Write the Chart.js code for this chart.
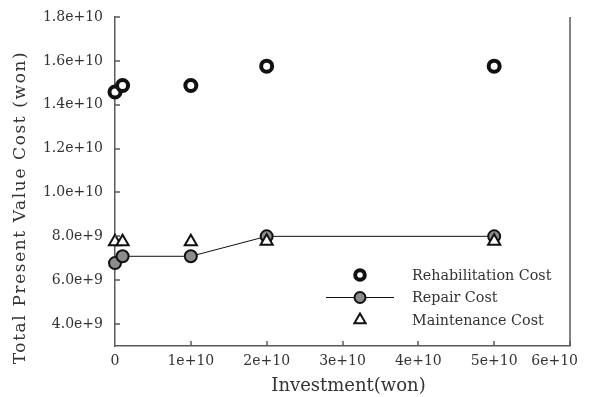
<!DOCTYPE html>
<html><head><meta charset="utf-8">
<script src="https://cdn.jsdelivr.net/npm/chart.js@4/dist/chart.umd.min.js"></script>
<style>html,body{margin:0;padding:0;background:#fff;}#wrap{width:590px;height:397px;position:relative}</style>
</head><body><div id="wrap"><canvas id="c" width="590" height="397"></canvas></div>
<script>
// ---- data ----
const investment = [0, 1e9, 1e10, 2e10, 5e10];
const rehabilitationCost = [1.458e10, 1.488e10, 1.488e10, 1.576e10, 1.576e10];
const repairCost = [6.78e9, 7.09e9, 7.09e9, 8.0e9, 8.0e9];
const maintenanceCost = [7.75e9, 7.75e9, 7.75e9, 7.78e9, 7.78e9];
const seriesNames = ['Rehabilitation Cost', 'Repair Cost', 'Maintenance Cost'];
const xTicks = [0, 1e10, 2e10, 3e10, 4e10, 5e10, 6e10];
const yTicks = [4e9, 6e9, 8e9, 1.0e10, 1.2e10, 1.4e10, 1.6e10, 1.8e10];
const xTitle = 'Investment(won)';
const yTitle = 'Total Present Value Cost (won)';

const FONT = '"DejaVu Serif", serif';
const TXT = '#333';
const AX = '#5a5a5a';
const fmtX = v => v === 0 ? '0' : v.toExponential(0);
const fmtY = v => v.toExponential(1);

const pts = (vals) => investment.map((x, i) => ({x: x, y: vals[i]}));

const datasets = [
  {label: seriesNames[0], data: pts(rehabilitationCost), showLine: false, order: 2, clip: false,
   pointStyle: 'circle', pointRadius: 5.5, pointBorderWidth: 4,
   pointBackgroundColor: '#fff', pointBorderColor: '#111'},
  {label: seriesNames[1], data: pts(repairCost), showLine: true, order: 1, clip: false,
   borderColor: '#111', borderWidth: 1, pointStyle: 'circle', pointRadius: 6, pointBorderWidth: 2,
   pointBackgroundColor: '#8c8c8c', pointBorderColor: '#111'},
  {label: seriesNames[2], data: pts(maintenanceCost), showLine: false, order: 0, clip: false,
   pointStyle: 'triangle', pointRadius: 7, pointBorderWidth: 2,
   pointBackgroundColor: '#fff', pointBorderColor: '#111'}
];

function patchTitle(s, dx, dy, spacing) {
  if (s._patched) return;
  const orig = s.drawTitle;
  s.drawTitle = function () {
    const c = this.ctx; c.save(); c.translate(dx, dy);
    if (spacing) c.letterSpacing = spacing;
    orig.apply(this, arguments); c.restore();
  };
  s._patched = true;
}

const decor = {
  id: 'decor',
  afterDraw(chart) {
    const ctx = chart.ctx, a = chart.chartArea;
    const xs = chart.scales.x, ys = chart.scales.y;
    ctx.save();
    ctx.strokeStyle = AX; ctx.lineWidth = 1.5;
    // right border
    ctx.beginPath(); ctx.moveTo(a.right, a.top); ctx.lineTo(a.right, a.bottom); ctx.stroke();
    // inward ticks
    ctx.beginPath();
    xTicks.forEach(v => { const px = Math.round(xs.getPixelForValue(v)); if (v > 0) { ctx.moveTo(px, a.bottom); ctx.lineTo(px, a.bottom - 5); } });
    yTicks.forEach(v => { const py = Math.round(ys.getPixelForValue(v)); ctx.moveTo(a.left, py); ctx.lineTo(a.left + 5, py); });
    ctx.stroke();
    // last x tick label, kept inside the canvas
    const last = xTicks[xTicks.length - 1];
    ctx.font = '14px ' + FONT; ctx.fillStyle = TXT; ctx.textAlign = 'right'; ctx.textBaseline = 'top';
    ctx.fillText(fmtX(last), xs.getPixelForValue(last) + 8, a.bottom + 8);
    // legend
    const mx = a.left + 245, tx = a.left + 297, y0 = a.bottom - 71, dy = 22.5;
    ctx.font = '14.3px ' + FONT; ctx.textBaseline = 'middle'; ctx.textAlign = 'left';
    chart.data.datasets.forEach((ds, i) => {
      const y = y0 + i * dy;
      if (ds.showLine) {
        ctx.strokeStyle = ds.borderColor; ctx.lineWidth = 1;
        ctx.beginPath(); ctx.moveTo(mx - 34, y); ctx.lineTo(mx + 34, y); ctx.stroke();
      }
      ctx.fillStyle = ds.pointBackgroundColor; ctx.strokeStyle = ds.pointBorderColor; ctx.lineWidth = ds.pointBorderWidth;
      Chart.helpers.drawPoint(ctx, {pointStyle: ds.pointStyle, radius: ds.pointStyle === 'triangle' ? 6.5 : (i === 0 ? 4.8 : 5.5), rotation: 0, borderWidth: ds.pointBorderWidth}, mx, y);
      ctx.fillStyle = TXT;
      ctx.fillText(ds.label, tx, y + 1);
    });
    ctx.restore();
  }
};

new Chart(document.getElementById('c'), {
  type: 'scatter',
  data: {datasets: datasets},
  options: {
    responsive: false, animation: false,
    layout: {padding: {top: 17, right: 20, left: 0, bottom: 0}},
    plugins: {legend: {display: false}, tooltip: {enabled: false}},
    scales: {
      x: {
        type: 'linear', min: 0, max: 6e10,
        afterFit: s => { s.height = 51; s.paddingLeft = 0; s.paddingRight = 0; patchTitle(s, 6, 1, null); },
        afterBuildTicks: s => { s.ticks = xTicks.map(v => ({value: v})); },
        grid: {display: false, drawTicks: false},
        border: {display: true, color: AX, width: 1.5},
        ticks: {color: TXT, font: {family: FONT, size: 14}, padding: 7, maxRotation: 0,
                callback: v => v === xTicks[xTicks.length - 1] ? '' : fmtX(v)},
        title: {display: true, text: xTitle, color: TXT, font: {family: FONT, size: 18}, padding: {top: 2, bottom: 1}}
      },
      y: {
        type: 'linear', min: 3e9, max: 1.8e10,
        afterFit: s => { s.width = 115; s.paddingTop = 0; s.paddingBottom = 0; patchTitle(s, 0, 26, '1.6px'); },
        afterBuildTicks: s => { s.ticks = yTicks.map(v => ({value: v})); },
        grid: {display: false, drawTicks: false},
        border: {display: true, color: AX, width: 1.5},
        ticks: {color: TXT, font: {family: FONT, size: 14}, padding: 12, callback: fmtY},
        title: {display: true, text: yTitle, color: TXT, font: {family: FONT, size: 17}, padding: {top: 10, bottom: 4}}
      }
    }
  },
  plugins: [decor]
});
</script></body></html>
